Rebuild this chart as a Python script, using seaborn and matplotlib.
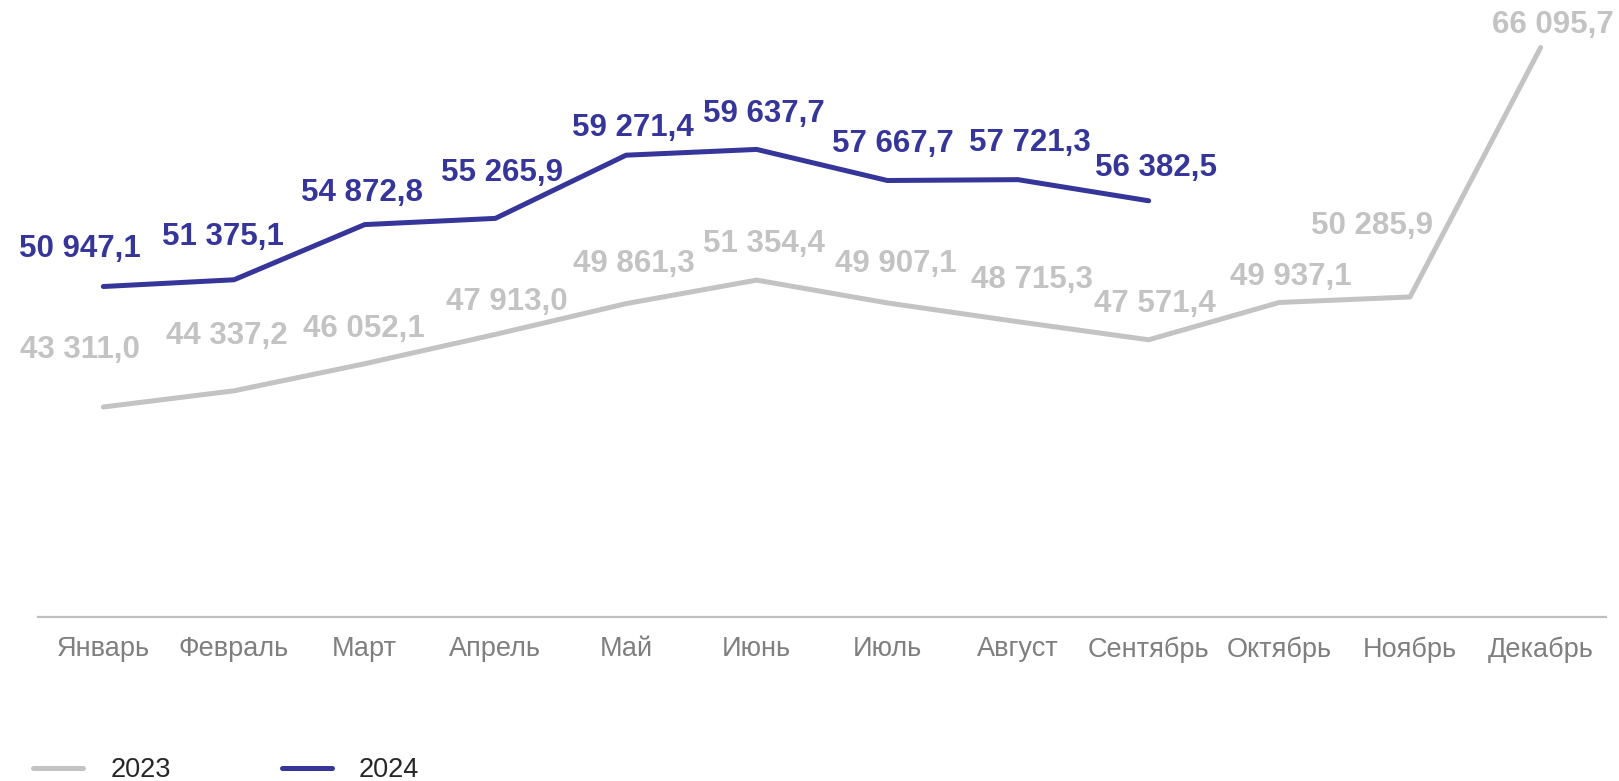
import pandas as pd
import matplotlib.pyplot as plt
import seaborn as sns

# Monthly values, 2023 vs 2024
months = ['Январь', 'Февраль', 'Март', 'Апрель', 'Май', 'Июнь',
          'Июль', 'Август', 'Сентябрь', 'Октябрь', 'Ноябрь', 'Декабрь']
values_2023 = [43311.0, 44337.2, 46052.1, 47913.0, 49861.3, 51354.4,
               49907.1, 48715.3, 47571.4, 49937.1, 50285.9, 66095.7]
values_2024 = [50947.1, 51375.1, 54872.8, 55265.9, 59271.4, 59637.7,
               57667.7, 57721.3, 56382.5]

# Label offsets (pixels) relative to each point
off_2023 = [(-23, 57), (-7, 55), (-1, 35), (11, 32), (8, 40), (7, 36),
            (8, 39), (14, 42), (6, 36), (11, 25), (-38, 71), (12, 23)]
off_2024 = [(-23, 38), (-11, 43), (-3, 32), (7, 45), (7, 27), (7, 35),
            (6, 36), (12, 37), (7, 33)]

c23 = '#C3C3C3'
c24 = '#35359A'

df = pd.concat([
    pd.DataFrame({'month': months, 'value': values_2023, 'year': '2023'}),
    pd.DataFrame({'month': months[:len(values_2024)], 'value': values_2024, 'year': '2024'}),
])

sns.set_style('white')
plt.rcParams['font.family'] = ['Liberation Sans', 'DejaVu Sans']

fig = plt.figure(figsize=(16.19, 7.81), dpi=100)
ax = fig.add_axes([38 / 1619, 0.21, 1568 / 1619, 0.808])

sns.lineplot(data=df, x='month', y='value', hue='year', sort=False,
             palette={'2023': c23, '2024': c24}, linewidth=3.6, ax=ax)

for lines in ax.get_lines():
    lines.set_solid_capstyle('round')
    lines.set_solid_joinstyle('round')


def fmt(v):
    return f'{v:,.1f}'.replace(',', ' ').replace('.', ',')


for i, v in enumerate(values_2023):
    ax.annotate(fmt(v), (i, v), xytext=off_2023[i], textcoords='offset pixels',
                ha='center', va='center', fontsize=22.5, fontweight='bold', color=c23)
for i, v in enumerate(values_2024):
    ax.annotate(fmt(v), (i, v), xytext=off_2024[i], textcoords='offset pixels',
                ha='center', va='center', fontsize=22.5, fontweight='bold', color=c24)

ax.set_xlim(-0.5, len(months) - 0.5)
ax.set_ylim(30000, 70000)
ax.set_xlabel('')
ax.set_ylabel('')
ax.set_yticks([])
ax.tick_params(axis='x', length=0, pad=14, labelsize=19.5, labelcolor='#7F7F7F')
for side in ['top', 'left', 'right']:
    ax.spines[side].set_visible(False)
ax.spines['bottom'].set_color('#BFBFBF')
ax.spines['bottom'].set_linewidth(1.6)

sns.move_legend(ax, loc='center left', bbox_to_anchor=(33 / 1619, 0.0135),
                bbox_transform=fig.transFigure, ncol=2, frameon=False, title=None,
                fontsize=19.5, handlelength=1.85, handletextpad=1.0,
                columnspacing=4.1, borderaxespad=0, borderpad=0)
for t in ax.get_legend().get_texts():
    t.set_color('#262626')

fig.savefig('out.png', dpi=100)
